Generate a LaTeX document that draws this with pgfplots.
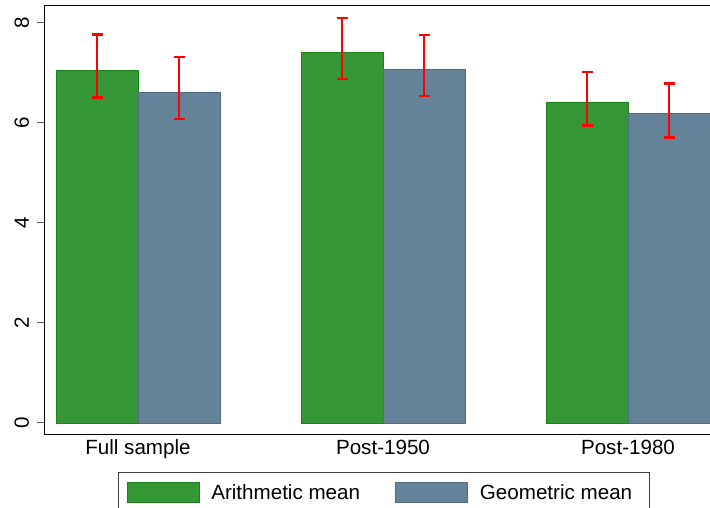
\documentclass[border=0pt]{standalone}
\usepackage{pgfplots}
\pgfplotsset{compat=1.18}
\usepackage{fontspec}
\setmainfont{Liberation Sans}
\definecolor{barg}{RGB}{53,151,53}
\definecolor{bargE}{RGB}{28,128,28}
\definecolor{barb}{RGB}{101,131,152}
\definecolor{barbE}{RGB}{78,108,130}
\begin{document}
\begin{tikzpicture}[font=\fontsize{20.6bp}{24bp}\selectfont]
\begin{axis}[
 at={(44bp,74bp)}, anchor=south west,
 scale only axis, width=678bp, height=428bp,
 xmin=-0.3837, xmax=2.3837, ymin=-0.22, ymax=8.34,
 ybar=0pt, bar width=82bp,
 xtick={0,1,2}, xticklabels={Full sample,Post-1950,Post-1980},
 xtick style={draw=none},
 ytick={0,2,4,6,8}, ytick pos=left, tick align=outside, major tick length=7bp,
 ytick style={black!65, line width=1bp},
 axis line style={black, line width=1bp},
 /pgf/number format/assume math mode=true,
 xticklabel style={anchor=base, inner sep=0pt},
 xticklabel shift=13bp,
 yticklabel style={rotate=90, anchor=base, inner sep=0pt},
 yticklabel shift=8bp,
 legend columns=2,
 legend style={at={(0.10914,-0.08879)}, anchor=north west, draw=black!75, line width=1bp,
   inner xsep=8bp, inner ysep=9bp, nodes={inner sep=0pt, text depth=0pt},
   /tikz/every odd column/.append style={column sep=12bp},
   /tikz/every even column/.append style={column sep=35bp}},
]
\addplot[fill=barg, draw=bargE, line width=0.8bp,
  legend image code/.code={\draw[fill=barg,draw=bargE,line width=0.8bp] (0bp,-10bp) rectangle (72bp,10bp);},
  error bars/.cd, y dir=both, y explicit,
  error bar style={red, line width=2.2bp},
  error mark options={rotate=90, mark size=5.5bp, red, line width=2.2bp}]
  coordinates {(0,7.05) += (0,0.72) -= (0,0.54)
               (1,7.41) += (0,0.69) -= (0,0.53)
               (2,6.42) += (0,0.60) -= (0,0.47)};
\addplot[fill=barb, draw=barbE, line width=0.8bp,
  legend image code/.code={\draw[fill=barb,draw=barbE,line width=0.8bp] (0bp,-10bp) rectangle (72bp,10bp);},
  error bars/.cd, y dir=both, y explicit,
  error bar style={red, line width=2.2bp},
  error mark options={rotate=90, mark size=5.5bp, red, line width=2.2bp}]
  coordinates {(0,6.61) += (0,0.71) -= (0,0.53)
               (1,7.07) += (0,0.69) -= (0,0.53)
               (2,6.19) += (0,0.60) -= (0,0.48)};
\legend{Arithmetic mean,Geometric mean\hspace*{9bp}}
\end{axis}
\pgfresetboundingbox
\path (0,0) rectangle (710bp,508bp);
\end{tikzpicture}
\end{document}
